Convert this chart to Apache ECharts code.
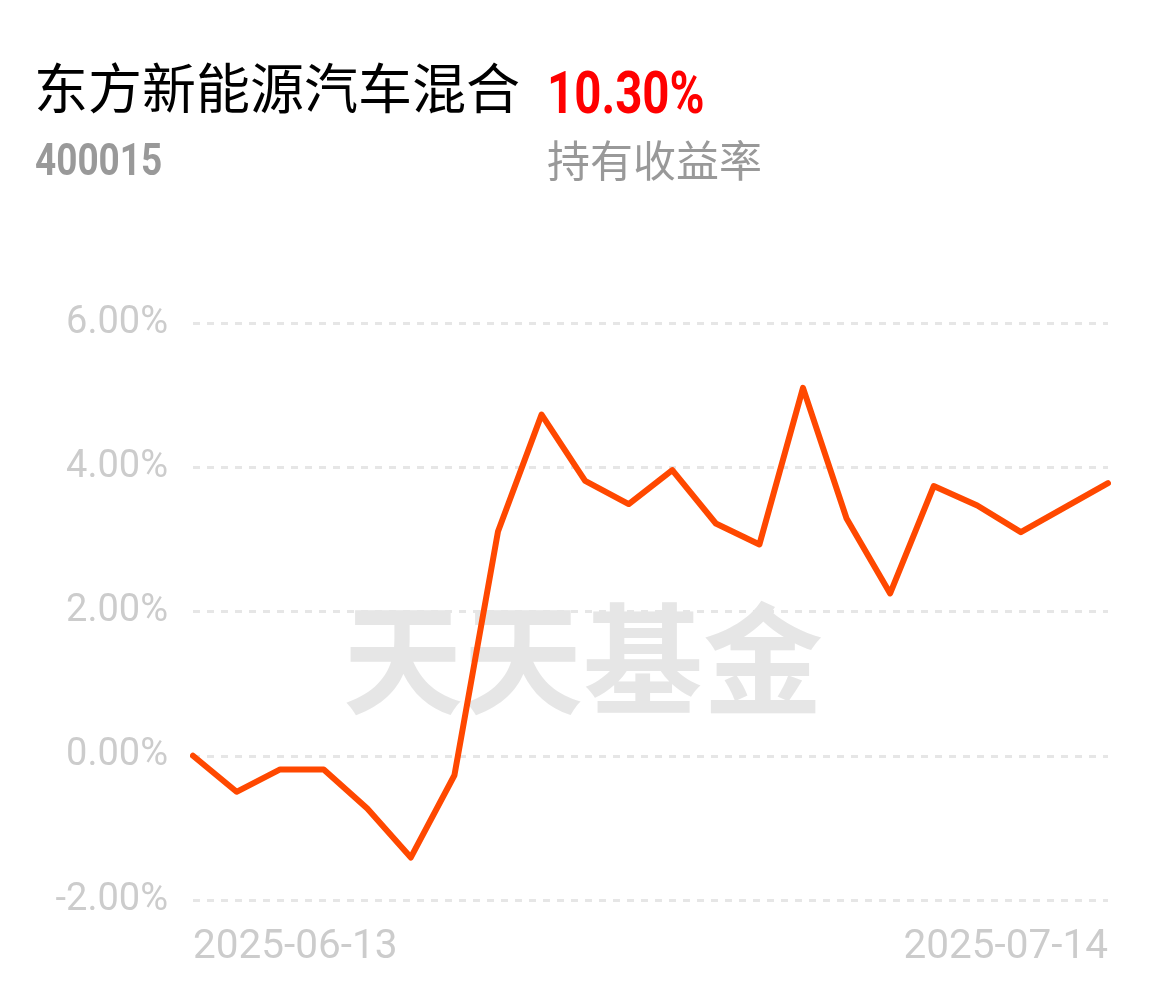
<!DOCTYPE html>
<html>
<head>
<meta charset="utf-8">
<script src="https://cdn.jsdelivr.net/npm/echarts@6/dist/echarts.min.js"></script>
<style>html,body{margin:0;padding:0;background:#fff;}#c{width:1158px;height:986px;}</style>
</head>
<body>
<div id="c"></div>
<script>
const fundName = '东方新能源汽车混合';
const fundCode = '400015';
const holdReturn = '10.30%';
const holdReturnLabel = '持有收益率';
const watermark = '天天基金';
const dates = ['2025-06-13','2025-06-16','2025-06-17','2025-06-18','2025-06-19','2025-06-20',
  '2025-06-23','2025-06-24','2025-06-25','2025-06-26','2025-06-27','2025-06-30',
  '2025-07-01','2025-07-02','2025-07-03','2025-07-04','2025-07-07','2025-07-08',
  '2025-07-09','2025-07-10','2025-07-11','2025-07-14'];
const returns = [0.00, -0.50, -0.19, -0.19, -0.73, -1.41, -0.27, 3.11, 4.73, 3.81, 3.49,
  3.96, 3.22, 2.93, 5.10, 3.29, 2.25, 3.74, 3.47, 3.10, 3.44, 3.78];
const yMin = -2, yMax = 6, yStep = 2;

const chart = echarts.init(document.getElementById('c'), null, {renderer: 'canvas'});
const last = dates.length - 1;
chart.setOption({
  backgroundColor: '#fff',
  animation: false,
  grid: {left: 193, right: 50, top: 323, bottom: 86, containLabel: false},
  graphic: [
    {type: 'text', left: 34, top: 61, style: {text: fundName, font: '400 54px "Noto Sans CJK SC"', fill: '#000'}},
    {type: 'text', x: 547, y: 68, scaleX: 0.79, style: {text: holdReturn, font: 'bold 60px Roboto', fill: '#f00'}},
    {type: 'text', x: 35, y: 142, scaleX: 0.84, style: {text: fundCode, font: 'bold 44px Roboto', fill: '#999'}},
    {type: 'text', left: 547, top: 139, style: {text: holdReturnLabel, font: '400 43px "Noto Sans CJK SC"', fill: '#999'}},
    {type: 'text', left: 343, top: 599, z: -1, style: {text: watermark, font: '700 120px "Noto Sans CJK SC"', fill: '#e6e6e6'}}
  ],
  xAxis: {
    type: 'category', data: dates, boundaryGap: false,
    axisLine: {show: false}, axisTick: {show: false}, splitLine: {show: false},
    axisLabel: {
      interval: function (i) { return i === 0 || i === last; },
      showMinLabel: true, showMaxLabel: true,
      alignMinLabel: 'left', alignMaxLabel: 'right',
      color: '#cccccc', fontSize: 40.5, fontFamily: 'Roboto', margin: 27
    }
  },
  yAxis: {
    type: 'value', min: yMin, max: yMax, interval: yStep,
    axisLine: {show: false}, axisTick: {show: false},
    axisLabel: {formatter: function (v) { return v.toFixed(2) + '%'; }, color: '#cccccc', fontSize: 38, fontFamily: 'Roboto', margin: 25},
    splitLine: {lineStyle: {color: '#e6e6e6', width: 3, type: [7, 7]}}
  },
  series: [{
    type: 'line', data: returns, symbol: 'none', smooth: false,
    lineStyle: {color: '#ff4800', width: 6, join: 'round', cap: 'round'}
  }]
});
</script>
</body>
</html>
